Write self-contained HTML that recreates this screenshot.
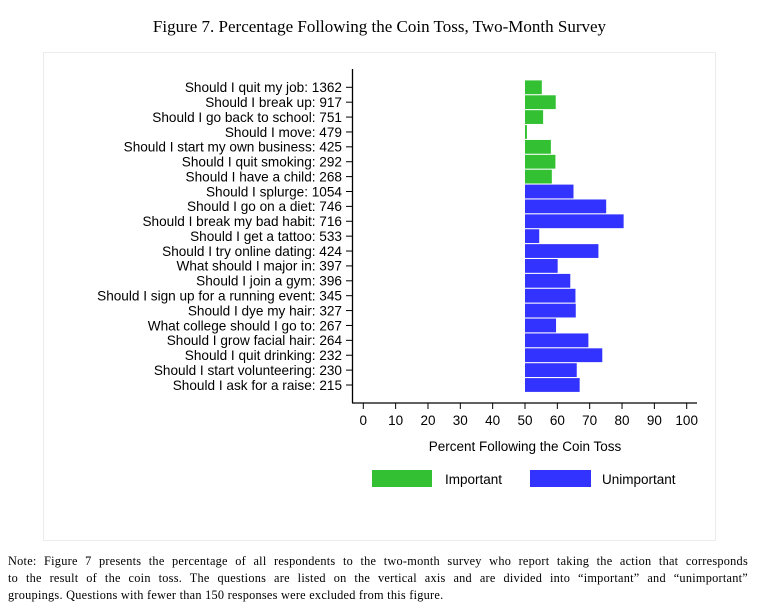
<!DOCTYPE html>
<html><head><meta charset="utf-8"><style>
body{margin:0;background:#fff;width:759px;height:614px;overflow:hidden;position:relative;font-family:"Liberation Sans",sans-serif}
.t{position:absolute;font-family:"Liberation Serif",serif}
.nl{position:absolute;left:8px;font-family:"Liberation Serif",serif;font-size:12.3px;white-space:nowrap;letter-spacing:0.25px}
.j{width:740px;text-align:justify;text-align-last:justify;white-space:normal}
</style></head><body>
<div class="t" style="left:0;width:759px;text-align:center;top:17px;font-size:17px">Figure 7. Percentage Following the Coin Toss, Two-Month Survey</div>
<div style="position:absolute;left:43px;top:52px;width:671px;height:487px;border:1px solid #ececec"></div>
<svg id="c" width="759" height="614" style="position:absolute;left:0;top:0"></svg>
<div>
<div class="nl j" style="top:554px">Note: Figure 7 presents the percentage of all respondents to the two-month survey who report taking the action that corresponds</div>
<div class="nl j" style="top:571px">to the result of the coin toss. The questions are listed on the vertical axis and are divided into “important” and “unimportant”</div>
<div class="nl" style="top:588px">groupings. Questions with fewer than 150 responses were excluded from this figure.</div>
</div>
<script>
const categories=["Should I quit my job: 1362","Should I break up: 917","Should I go back to school: 751","Should I move: 479","Should I start my own business: 425","Should I quit smoking: 292","Should I have a child: 268","Should I splurge: 1054","Should I go on a diet: 746","Should I break my bad habit: 716","Should I get a tattoo: 533","Should I try online dating: 424","What should I major in: 397","Should I join a gym: 396","Should I sign up for a running event: 345","Should I dye my hair: 327","What college should I go to: 267","Should I grow facial hair: 264","Should I quit drinking: 232","Should I start volunteering: 230","Should I ask for a raise: 215"];
const values=[55.2,59.5,55.6,50.6,58.0,59.4,58.3,65.0,75.1,80.5,54.4,72.7,60.1,64.0,65.6,65.7,59.6,69.6,73.9,66.0,66.9];
const groups=["Important","Important","Important","Important","Important","Important","Important","Unimportant","Unimportant","Unimportant","Unimportant","Unimportant","Unimportant","Unimportant","Unimportant","Unimportant","Unimportant","Unimportant","Unimportant","Unimportant","Unimportant"];
const ticks=[0,10,20,30,40,50,60,70,80,90,100];
const colors={Important:"#33c033",Unimportant:"#3333ff"};
const svg=document.getElementById('c');const NS="http://www.w3.org/2000/svg";
const x=v=>363.3+v*3.234;
const y=i=>87.3+i*14.885;
function mk(t,a){const e=document.createElementNS(NS,t);for(const k in a)e.setAttribute(k,a[k]);svg.appendChild(e);return e;}
let e=mk('line',{x1:352.5,y1:69,x2:352.5,y2:403,stroke:'#000','stroke-width':1.3});

e=mk('line',{x1:352,y1:403,x2:697,y2:403,stroke:'#000','stroke-width':1.3});

categories.forEach((c,i)=>{
 const b=mk('rect',{x:x(50),y:y(i)-6.9,width:Math.max(0.8,x(values[i])-x(50)),height:13.8,fill:colors[groups[i]]});
 
 const tk=mk('line',{x1:346,y1:y(i),x2:352,y2:y(i),stroke:'#000','stroke-width':1});
 
 const t=mk('text',{x:342,y:y(i)+4.8,'text-anchor':'end','font-size':13.6,'font-family':'Liberation Sans, sans-serif'});
 t.textContent=c;
});
ticks.forEach(v=>{
 const tk=mk('line',{x1:x(v),y1:403,x2:x(v),y2:409,stroke:'#000','stroke-width':1});
 
 const t=mk('text',{x:x(v),y:425,'text-anchor':'middle','font-size':13.5,'font-family':'Liberation Sans, sans-serif'});
 t.textContent=v;
});
e=mk('text',{x:525,y:451,'text-anchor':'middle','font-size':13.5,'font-family':'Liberation Sans, sans-serif'});
e.textContent='Percent Following the Coin Toss';
e=mk('rect',{x:372,y:470,width:60,height:17,fill:colors.Important});

e=mk('text',{x:445,y:484,'font-size':13.5,'font-family':'Liberation Sans, sans-serif'});e.textContent='Important';

e=mk('rect',{x:530,y:470,width:61,height:17,fill:colors.Unimportant});

e=mk('text',{x:602,y:484,'font-size':13.5,'font-family':'Liberation Sans, sans-serif'});e.textContent='Unimportant';

</script>
</body></html>
